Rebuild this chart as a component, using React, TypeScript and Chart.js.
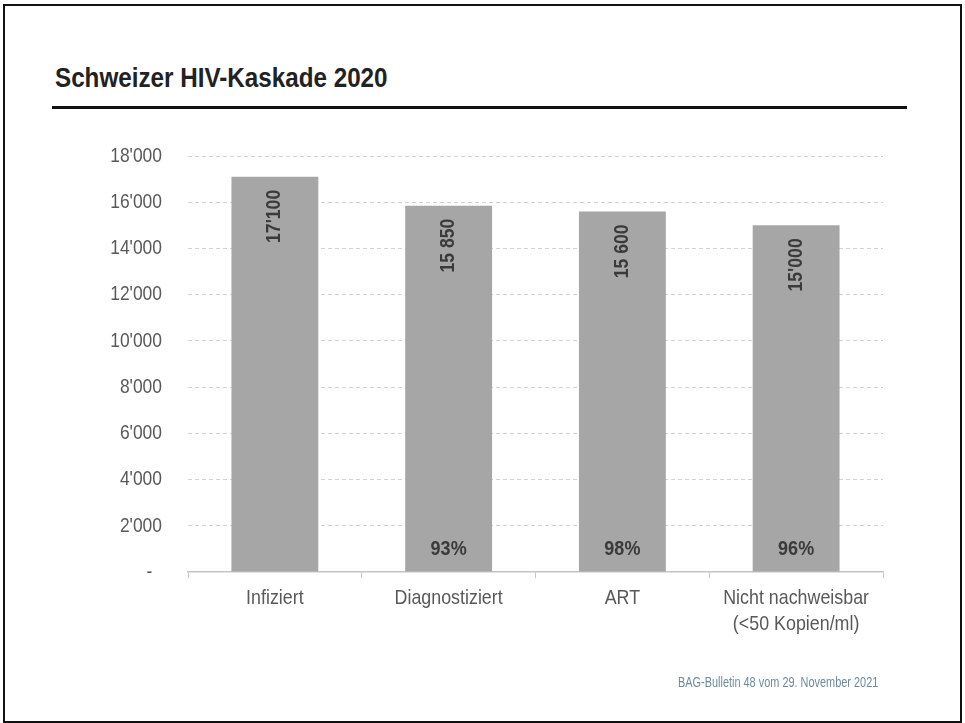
import React, { useEffect, useRef } from "react";
import { Chart, registerables } from "chart.js";

Chart.register(...registerables);

const categories: string[][] = [
  ["Infiziert"],
  ["Diagnostiziert"],
  ["ART"],
  ["Nicht nachweisbar", "(<50 Kopien/ml)"],
];
const values: number[] = [17100, 15850, 15600, 15000];
const valueLabels: string[] = ["17'100", "15 850", "15 600", "15'000"];
const percentLabels: string[] = ["", "93%", "98%", "96%"];
const yTickLabels: string[] = ["-  ", "2'000", "4'000", "6'000", "8'000", "10'000", "12'000", "14'000", "16'000", "18'000"];

const FONT = "'Liberation Sans', Arial, sans-serif";

function drawNarrow(ctx: CanvasRenderingContext2D, text: string, x: number, y: number, sx: number) {
  ctx.save();
  ctx.translate(x, y);
  ctx.scale(sx, 1);
  ctx.fillText(text, 0, 0);
  ctx.restore();
}

const labelPlugin = {
  id: "barLabels",
  afterDraw(chart: any) {
    const ctx: CanvasRenderingContext2D = chart.ctx;
    const xs = chart.scales.x;
    const ys = chart.scales.y;

    // y tick labels
    ctx.save();
    ctx.fillStyle = "#595959";
    ctx.font = `21px ${FONT}`;
    ctx.textAlign = "right";
    ctx.textBaseline = "middle";
    ys.ticks.forEach((t: any) => {
      const label = yTickLabels[Math.round(t.value / 2000)] ?? "";
      drawNarrow(ctx, label, ys.right - 26, ys.getPixelForValue(t.value), 0.83);
    });
    ctx.restore();

    // x tick labels
    ctx.save();
    ctx.fillStyle = "#595959";
    ctx.font = `21px ${FONT}`;
    ctx.textAlign = "center";
    ctx.textBaseline = "middle";
    categories.forEach((lines, i) => {
      const x = xs.getPixelForValue(i);
      lines.forEach((line, j) => {
        drawNarrow(ctx, line, x, xs.top + 26 + j * 26, 0.85);
      });
    });
    ctx.restore();

    // bar labels
    const meta = chart.getDatasetMeta(0);
    meta.data.forEach((bar: any, i: number) => {
      ctx.save();
      ctx.fillStyle = "#3a3a3a";
      ctx.font = `bold 20px ${FONT}`;
      ctx.translate(bar.x, bar.y + 13);
      ctx.rotate(-Math.PI / 2);
      ctx.scale(0.88, 1);
      ctx.textAlign = "right";
      ctx.textBaseline = "middle";
      ctx.fillText(valueLabels[i], 0, 0);
      ctx.restore();
      if (percentLabels[i]) {
        ctx.save();
        ctx.fillStyle = "#3a3a3a";
        ctx.font = `bold 20px ${FONT}`;
        ctx.textAlign = "center";
        ctx.textBaseline = "middle";
        drawNarrow(ctx, percentLabels[i], bar.x, bar.base - 22, 0.9);
        ctx.restore();
      }
    });
  },
};

function HivChart() {
  const ref = useRef<HTMLCanvasElement | null>(null);
  useEffect(() => {
    if (!ref.current) return;
    const chart = new Chart(ref.current, {
      type: "bar",
      data: {
        labels: categories.map((c) => c.join(" ")),
        datasets: [
          {
            data: values,
            backgroundColor: "#a6a6a6",
            barPercentage: 0.5,
            categoryPercentage: 1,
          },
        ],
      },
      options: {
        animation: false,
        responsive: false,
        devicePixelRatio: 1,
        layout: { padding: { top: 156, right: 82, left: 0, bottom: 0 } },
        plugins: { legend: { display: false }, tooltip: { enabled: false } },
        scales: {
          x: {
            afterFit: (s: any) => {
              s.height = 151;
            },
            grid: {
              display: true,
              drawOnChartArea: false,
              offset: true,
              drawTicks: true,
              tickLength: 6,
              color: "#c4c4c4",
            },
            border: { display: true, color: "#c4c4c4", width: 1.5 },
            ticks: { display: false },
          },
          y: {
            min: 0,
            max: 18000,
            afterFit: (s: any) => {
              s.width = 188;
            },
            grid: {
              drawTicks: false,
              color: (c: any) => (c.tick && c.tick.value === 0 ? "rgba(0,0,0,0)" : "#d2d2d2"),
              lineWidth: 1,
            },
            border: { display: false, dash: [4, 3] },
            ticks: { stepSize: 2000, display: false },
          },
        },
      },
      plugins: [labelPlugin],
    });
    return () => chart.destroy();
  }, []);
  return (
    <canvas
      ref={ref}
      width={965}
      height={723}
      style={{ position: "absolute", left: 0, top: 0, width: 965, height: 723 }}
    />
  );
}

export default function App() {
  useEffect(() => {
    document.body.style.margin = "0";
  }, []);
  return (
    <div style={{ position: "relative", width: 965, height: 723, background: "#fff", overflow: "hidden" }}>
      <div
        style={{
          position: "absolute",
          left: 3,
          top: 4,
          width: 959,
          height: 719,
          border: "2.5px solid #111",
          boxSizing: "border-box",
        }}
      />
      <div
        style={{
          position: "absolute",
          left: 55,
          top: 64,
          fontFamily: FONT,
          fontWeight: "bold",
          fontSize: 28,
          lineHeight: "28px",
          color: "#222",
          whiteSpace: "nowrap",
          transform: "scaleX(0.865)",
          transformOrigin: "left center",
        }}
      >
        Schweizer HIV-Kaskade 2020
      </div>
      <div style={{ position: "absolute", left: 52, top: 106, width: 855, height: 3, background: "#111" }} />
      <HivChart />
      <div
        style={{
          position: "absolute",
          left: 678,
          top: 675,
          fontFamily: FONT,
          fontSize: 14,
          lineHeight: "14px",
          color: "#6d8a9c",
          whiteSpace: "nowrap",
          transform: "scaleX(0.78)",
          transformOrigin: "left center",
        }}
      >
        BAG-Bulletin 48 vom 29. November 2021
      </div>
    </div>
  );
}
